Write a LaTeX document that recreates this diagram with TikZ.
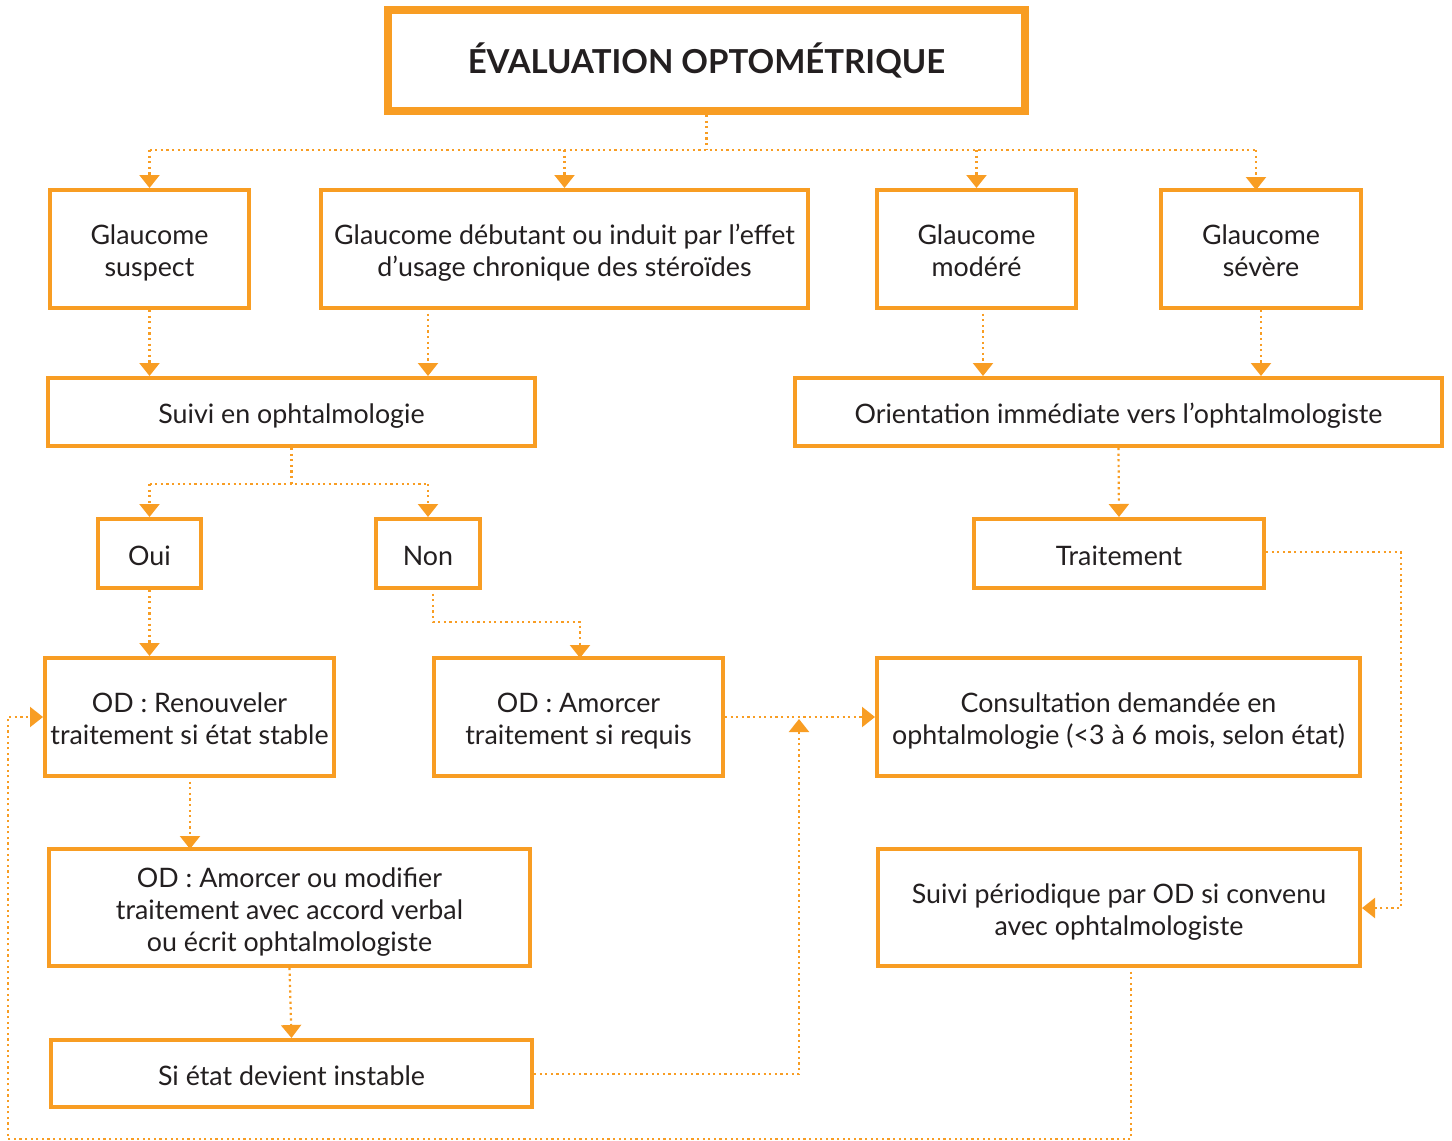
\documentclass[tikz,border=0pt]{standalone}
\usepackage{fontspec}
\setmainfont{Lato}
\usetikzlibrary{arrows.meta,calc}
\definecolor{org}{RGB}{248,157,35}
\definecolor{ink}{RGB}{35,31,32}
\tikzset{
  basebox/.style={draw=org, line width=2pt, fill=white, align=center, inner sep=0pt, text=ink},
  box/.style={basebox, font=\fontsize{13.4}{16}\selectfont,
    execute at begin node={\rule{0pt}{15.5pt}},
    execute at end node={\rule[-4pt]{0pt}{0pt}}},
  mbox/.style={basebox, label={[font=\fontsize{13.4}{16}\selectfont, text=ink, align=center,
    inner sep=0pt, yshift=-1.55pt]center:\rule{0pt}{12.5pt}#1\rule[-4pt]{0pt}{0pt}}},
  conn/.style={draw=org, line width=1.1pt, dash pattern=on 1.1pt off 1.7pt},
  arr/.style={conn, -{Triangle[width=10pt,length=6.5pt]}}
}
\begin{document}
\begin{tikzpicture}[x=0.5pt,y=-0.5pt]
\useasboundingbox (0,0) rectangle (1452,1141);
% boxes
\node[basebox, line width=4pt, minimum width=318.5pt, minimum height=50.5pt,
  font=\fontsize{16.5}{20}\bfseries\selectfont] (title) at (706.5,60.5) {ÉVALUATION OPTOMÉTRIQUE};
\node[mbox={Glaucome\\suspect}, minimum width=99.5pt, minimum height=59pt] (gs) at (149.5,249) {};
\node[mbox={Glaucome débutant ou induit par l’effet\\d’usage chronique des stéroïdes}, minimum width=243.5pt, minimum height=59pt] (gd) at (564.5,249) {};
\node[mbox={Glaucome\\modéré}, minimum width=99.5pt, minimum height=59pt] (gm) at (976.5,249) {};
\node[mbox={Glaucome\\sévère}, minimum width=100pt, minimum height=59pt] (gv) at (1261,249) {};
\node[box, minimum width=243.5pt, minimum height=34pt] (suivi) at (291.5,412) {Suivi en ophtalmologie};
\node[box, minimum width=323.5pt, minimum height=34pt] (orient) at (1118.5,412) {Orientation immédiate vers l’ophtalmologiste};
\node[box, minimum width=51.5pt, minimum height=34.5pt] (oui) at (149.5,553.5) {Oui};
\node[box, minimum width=52pt, minimum height=34.5pt] (non) at (428,553.5) {Non};
\node[box, minimum width=145pt, minimum height=34.5pt] (trait) at (1119,553.5) {Traitement};
\node[mbox={OD : Renouveler\\traitement si état stable}, minimum width=144.5pt, minimum height=59pt] (odr) at (189.5,717) {};
\node[mbox={OD : Amorcer\\traitement si requis}, minimum width=144.5pt, minimum height=59pt] (oda) at (578.5,717) {};
\node[mbox={Consultation demandée en\\ophtalmologie (<3 à 6 mois, selon état)}, minimum width=241.5pt, minimum height=59pt] (cons) at (1118.5,717) {};
\node[mbox={OD : Amorcer ou modifier\\traitement avec accord verbal\\ou écrit ophtalmologiste}, minimum width=240.5pt, minimum height=58.5pt] (odm) at (289.5,907.5) {};
\node[mbox={Suivi périodique par OD si convenu\\avec ophtalmologiste}, minimum width=241pt, minimum height=58.5pt] (sper) at (1119,907.5) {};
\node[box, minimum width=240.5pt, minimum height=33.5pt] (si) at (291.5,1073.5) {Si état devient instable};
% helper coordinates
\coordinate (j0) at (706.5,150);
\coordinate (hL) at (149.5,150);
\coordinate (hR) at (1256,150);
\coordinate (gvIn) at (1256,190);
\coordinate (gdOut) at (428,308);
\coordinate (gmOut) at (983,308);
\coordinate (j1) at (291.5,484);
\coordinate (nonOut) at (433,588);
\coordinate (nb) at (433,622);
\coordinate (nc) at (580,622);
\coordinate (ndIn) at (580,658);
\coordinate (tr1) at (1401,552);
\coordinate (tr2) at (1401,908);
\coordinate (si1) at (799,1074);
\coordinate (si2) at (799,719);
\coordinate (odrOut) at (190,776);
\coordinate (odmIn) at (190,849);
\coordinate (spOut) at (1131,966);
\coordinate (lp1) at (1131,1139);
\coordinate (lp2) at (8,1139);
\coordinate (lp3) at (8,717);
% connectors
\draw[conn] (title.south) -- (j0);
\draw[conn] (hL) -- (hR);
\draw[arr] (hL) -- (gs.north);
\draw[arr] (j0 -| gd.north) -- (gd.north);
\draw[arr] (j0 -| gm.north) -- (gm.north);
\draw[arr] (hR) -- (gvIn);
\draw[arr] (gs.south) -- (gs.south |- suivi.north);
\draw[arr] (gdOut) -- (gdOut |- suivi.north);
\draw[arr] (gmOut) -- (gmOut |- orient.north);
\draw[arr] (gv.south) -- (gv.south |- orient.north);
\draw[conn] (suivi.south) -- (j1);
\draw[conn] (j1 -| oui.north) -- (j1 -| non.north);
\draw[arr] (j1 -| oui.north) -- (oui.north);
\draw[arr] (j1 -| non.north) -- (non.north);
\draw[arr] (orient.south) -- (trait.north);
\draw[arr] (trait.east |- tr1) -- (tr1) -- (tr2) -- (tr2 -| sper.east);
\draw[arr] (oui.south) -- (oui.south |- odr.north);
\draw[arr] (nonOut) -- (nb) -- (nc) -- (ndIn);
\draw[arr] (odrOut) -- (odmIn);
\draw[arr] (odm.south) -- (si.north);
\draw[arr] (si.east |- si1) -- (si1) -- (si2);
\draw[arr] (oda.east) -- (cons.west);
\draw[arr] (spOut) -- (lp1) -- (lp2) -- (lp3) -- (odr.west);
\end{tikzpicture}
\end{document}
